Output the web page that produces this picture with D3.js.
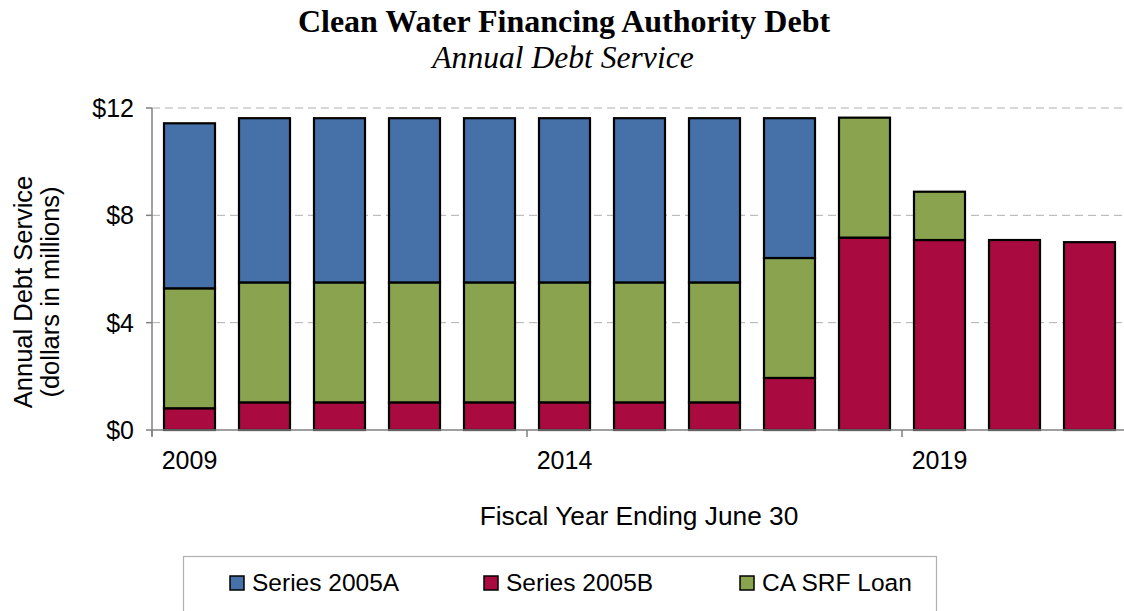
<!DOCTYPE html>
<html><head><meta charset="utf-8">
<script src="https://cdn.jsdelivr.net/npm/d3@7"></script>
<style>body{margin:0;background:#fff}svg{display:block}</style>
</head><body>
<svg id="c" width="1124" height="611"></svg>
<script>
const years = ["2009","2010","2011","2012","2013","2014","2015","2016","2017","2018","2019","2020","2021"];
const series2005B = [0.81,1.03,1.03,1.03,1.03,1.03,1.03,1.03,1.94,7.17,7.08,7.08,7.0];
const caSRF      = [4.47,4.47,4.47,4.47,4.47,4.47,4.47,4.47,4.47,4.47,1.80,0,0];
const series2005A = [6.15,6.12,6.12,6.12,6.12,6.12,6.12,6.12,5.21,0,0,0,0];
const yTicks = [0,4,8,12];
const xTickLabels = ["2009","2014","2019"];
const seriesNames = ["Series 2005A","Series 2005B","CA SRF Loan"];
const colors = {"Series 2005A":"#4571A8","Series 2005B":"#A90A40","CA SRF Loan":"#89A34F"};

const svg = d3.select("#c");
const L=152, R=1127, T=108, B=430;
const x = d3.scaleBand().domain(years).range([L,R]).paddingInner(0.32).paddingOuter(0.16);
const y = d3.scaleLinear().domain([0,12]).range([B,T]);

svg.append("g").selectAll("line").data(yTicks.filter(d=>d>0)).join("line")
  .attr("x1",L).attr("x2",1124).attr("y1",d=>y(d)).attr("y2",d=>y(d))
  .attr("stroke","#b0b0b0").attr("stroke-dasharray","8,5").attr("stroke-width",1);

const rows = years.map((yr,i)=>({year:yr,"Series 2005B":series2005B[i],"CA SRF Loan":caSRF[i],"Series 2005A":series2005A[i]}));
const stack = d3.stack().keys(["Series 2005B","CA SRF Loan","Series 2005A"])(rows);
const bw = 51;
svg.append("g").selectAll("g").data(stack).join("g").attr("fill",d=>colors[d.key])
  .selectAll("rect").data(d=>d.filter(p=>p[1]-p[0]>0)).join("rect")
  .attr("x",d=>x(d.data.year)+x.bandwidth()/2-bw/2).attr("width",bw)
  .attr("y",d=>y(d[1])).attr("height",d=>y(d[0])-y(d[1]))
  .attr("stroke","#000").attr("stroke-width",2.2);

const ax = svg.append("g").attr("stroke","#808080").attr("stroke-width",1.5);
ax.append("line").attr("x1",L).attr("x2",L).attr("y1",T).attr("y2",B+6);
ax.append("line").attr("x1",L).attr("x2",1124).attr("y1",B).attr("y2",B);
ax.selectAll(".yt").data(yTicks).join("line").attr("x1",L-6).attr("x2",L).attr("y1",d=>y(d)).attr("y2",d=>y(d));
ax.selectAll(".xt").data(xTickLabels).join("line")
  .attr("x1",d=>x(d)-x.step()*x.paddingInner()/2).attr("x2",d=>x(d)-x.step()*x.paddingInner()/2)
  .attr("y1",B).attr("y2",B+7);

const font = "'Liberation Sans', Arial, sans-serif";
svg.append("g").selectAll("text").data(yTicks).join("text")
  .attr("x",L-18).attr("y",d=>y(d)).attr("dy","0.36em").attr("text-anchor","end")
  .attr("font-family",font).attr("font-size",25).text(d=>"$"+d);
svg.append("g").selectAll("text").data(xTickLabels).join("text")
  .attr("x",d=>x(d)+x.bandwidth()/2).attr("y",469).attr("text-anchor","middle")
  .attr("font-family",font).attr("font-size",25).text(d=>d);

svg.append("text").attr("transform","translate(32,292) rotate(-90)").attr("text-anchor","middle")
  .attr("font-family",font).attr("font-size",25.5).text("Annual Debt Service");
svg.append("text").attr("transform","translate(59,292) rotate(-90)").attr("text-anchor","middle")
  .attr("font-family",font).attr("font-size",25.5).text("(dollars in millions)");
svg.append("text").attr("x",639).attr("y",525).attr("text-anchor","middle")
  .attr("font-family",font).attr("font-size",26.3).text("Fiscal Year Ending June 30");

svg.append("text").attr("x",564).attr("y",32).attr("text-anchor","middle")
  .attr("font-family","'Liberation Serif','Times New Roman',serif").attr("font-weight","bold").attr("font-size",32)
  .text("Clean Water Financing Authority Debt");
svg.append("text").attr("x",563).attr("y",68).attr("text-anchor","middle")
  .attr("font-family","'Liberation Serif','Times New Roman',serif").attr("font-style","italic").attr("font-size",31.6)
  .text("Annual Debt Service");

svg.append("rect").attr("x",183.5).attr("y",556.5).attr("width",753).attr("height",70)
  .attr("fill","#fff").attr("stroke","#b0b0b0").attr("stroke-width",1.2);
const lx = [230,484,740];
const lg = svg.append("g").selectAll("g").data(seriesNames).join("g")
  .attr("transform",(d,i)=>`translate(${lx[i]},576)`);
lg.append("rect").attr("x",0).attr("y",0).attr("width",14).attr("height",14)
  .attr("fill",d=>colors[d]).attr("stroke","#000").attr("stroke-width",1.5);
lg.append("text").attr("x",22).attr("y",14.5).attr("font-family",font).attr("font-size",24.5).text(d=>d);
</script>
</body></html>
